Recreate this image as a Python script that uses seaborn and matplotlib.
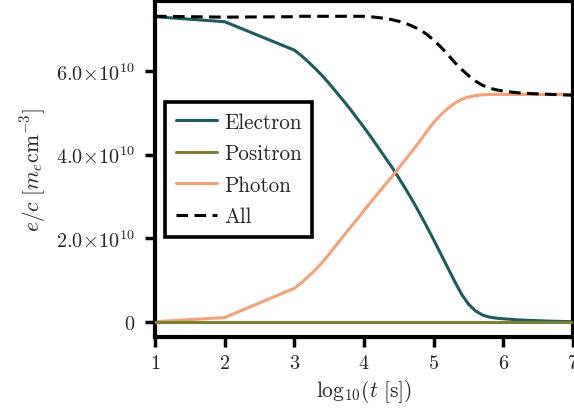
import numpy as np
import pandas as pd
import matplotlib
matplotlib.use("Agg")
import matplotlib.pyplot as plt
import seaborn as sns
from matplotlib.ticker import FuncFormatter, FixedLocator

# ---- data (energy density values in units of 1e10) ----
log_t = [1.0, 2.0,
         3.0, 3.1, 3.2, 3.3, 3.4, 3.5, 3.6, 3.7, 3.8, 3.9,
         4.0, 4.1, 4.2, 4.3, 4.4, 4.5, 4.6, 4.7, 4.8, 4.9,
         5.0, 5.1, 5.2, 5.3, 5.4, 5.5, 5.6, 5.7, 5.8, 5.9,
         6.0, 6.2, 6.4, 6.7, 7.0]
electron = [7.30, 7.18,
            6.50, 6.37, 6.22, 6.06, 5.89, 5.70, 5.50, 5.30, 5.09, 4.87,
            4.65, 4.42, 4.18, 3.94, 3.70, 3.44, 3.17, 2.89, 2.59, 2.28,
            1.96, 1.63, 1.30, 0.97, 0.66, 0.42, 0.26, 0.16, 0.11, 0.085,
            0.07, 0.045, 0.03, 0.012, 0.0]
positron = [0.0] * len(log_t)
photon = [0.00, 0.10,
          0.80, 0.93, 1.08, 1.24, 1.42, 1.62, 1.83, 2.04, 2.25, 2.45,
          2.66, 2.87, 3.07, 3.27, 3.47, 3.68, 3.89, 4.10, 4.32, 4.55,
          4.77, 4.95, 5.10, 5.23, 5.32, 5.38, 5.41, 5.43, 5.44, 5.44,
          5.44, 5.44, 5.44, 5.44, 5.44]
all_e = [7.31, 7.29,
         7.30, 7.31, 7.31, 7.31, 7.31, 7.31, 7.31, 7.31, 7.31, 7.31,
         7.31, 7.30, 7.28, 7.26, 7.23, 7.19, 7.14, 7.07, 6.99, 6.88,
         6.74, 6.58, 6.40, 6.21, 6.04, 5.89, 5.76, 5.66, 5.59, 5.55,
         5.52, 5.48, 5.46, 5.44, 5.42]
series_names = ["Electron", "Positron", "Photon", "All"]
colors = ["#1c5c5d", "#7c8035", "#f4a175", "black"]
yticks = [0, 2, 4, 6]
xticks = [1, 2, 3, 4, 5, 6, 7]

sns.set_theme(style="ticks")
plt.rcParams["font.family"] = ["cmr10", "DejaVu Serif"]
plt.rcParams["mathtext.fontset"] = "cm"
plt.rcParams["axes.unicode_minus"] = False
plt.rcParams["axes.formatter.use_mathtext"] = True

rows = []
for name, vals in zip(series_names, [electron, positron, photon, all_e]):
    for x, v in zip(log_t, vals):
        rows.append({"log_t": x, "value": v * 1e10, "species": name})
df = pd.DataFrame(rows)

fig = plt.figure(figsize=(5.74, 4.14), dpi=100)
ax = fig.add_axes([155 / 574, 76 / 414, 418 / 574, 336 / 414])

zorders = [2, 3, 2, 4]
for name, c, z in zip(series_names, colors, zorders):
    sub = df[df["species"] == name]
    sns.lineplot(data=sub, x="log_t", y="value", ax=ax, color=c, lw=2.2,
                 label=name, zorder=z, sort=False)
ax.lines[-1].set_linestyle((0, (3.8, 2.1)))

ax.set_xlim(1, 7)
ax.set_ylim(-0.366e10, 7.676e10)
ax.xaxis.set_major_locator(FixedLocator(xticks))
ax.yaxis.set_major_locator(FixedLocator([v * 1e10 for v in yticks]))

def yfmt(v, pos):
    if abs(v) < 1:
        return r"$0$"
    return r"$%.1f\!\times\!10^{10}$" % (v / 1e10)

ax.yaxis.set_major_formatter(FuncFormatter(yfmt))
ax.xaxis.set_major_formatter(FuncFormatter(lambda v, p: r"$%d$" % v))

for s in ax.spines.values():
    s.set_linewidth(3.0)
    s.set_color("black")
ax.tick_params(axis="both", direction="out", length=7, width=2.5, labelsize=14.5, color="black")
ax.tick_params(axis="y", pad=7)
ax.tick_params(axis="x", pad=5)

ax.set_xlabel(r"$\mathrm{log}_{10}(t\ [\mathrm{s}])$", fontsize=15.5, labelpad=4)
ax.set_ylabel(r"$e/c\ [m_e\mathrm{cm}^{-3}]$", fontsize=15.5, labelpad=6)

leg = ax.legend(loc="upper left", bbox_to_anchor=(0.024, 0.70), borderaxespad=0,
                fancybox=False, framealpha=1, edgecolor="black", fontsize=15.2,
                handlelength=1.95, handletextpad=0.35, labelspacing=0.56, borderpad=0.5)
leg.get_frame().set_linewidth(2.6)
for t in leg.get_texts():
    t.set_family(["cmr10", "DejaVu Serif"])

fig.savefig("out.png", dpi=100)
